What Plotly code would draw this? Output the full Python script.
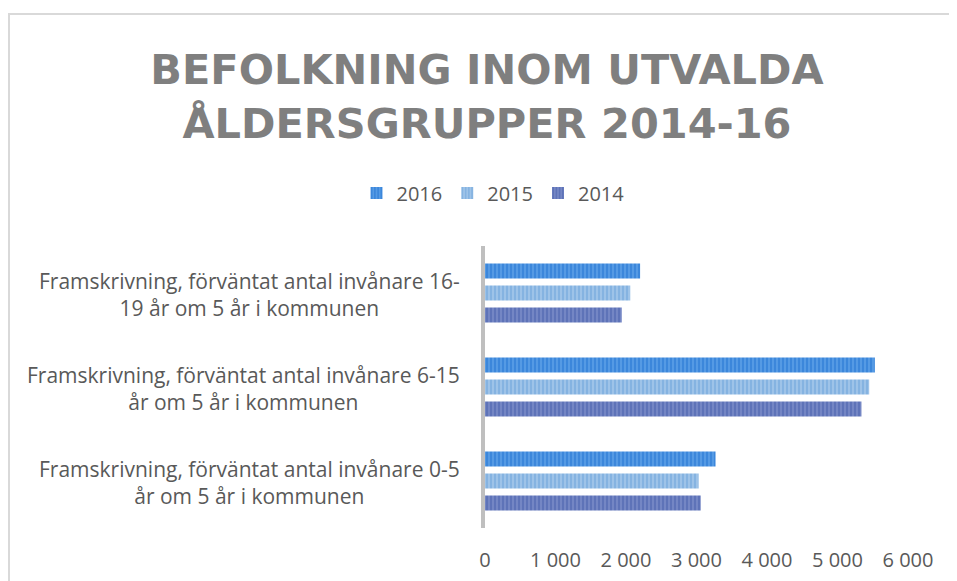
import plotly.graph_objects as go

categories = [
    "Framskrivning, förväntat antal invånare 0-5<br>år om 5 år i kommunen",
    "Framskrivning, förväntat antal invånare 6-15<br>år om 5 år i kommunen",
    "Framskrivning, förväntat antal invånare 16-<br>19 år om 5 år i kommunen",
]
cat_keys = ["0-5", "6-15", "16-19"]
years = ["2014", "2015", "2016"]
values_2014 = [3060, 5340, 1940]
values_2015 = [3030, 5450, 2060]
values_2016 = [3270, 5530, 2200]
tick_vals = [0, 1000, 2000, 3000, 4000, 5000, 6000]
tick_text = ["0", "1 000", "2 000", "3 000", "4 000", "5 000", "6 000"]

series = {"2014": values_2014, "2015": values_2015, "2016": values_2016}
base_colors = {"2014": "#7486C4", "2015": "#9EC3E8", "2016": "#559AE4"}
stripe_colors = {"2014": "#4760AC", "2015": "#6CA4DA", "2016": "#2474D2"}

W, H = 949, 573
L, R, T, B = 477, 49, 238, 53
pw, ph = W - L - R, H - T - B

fig = go.Figure()
for y in years:
    fig.add_trace(go.Bar(
        x=series[y], y=cat_keys, orientation="h", name=y,
        marker=dict(color=base_colors[y], line=dict(width=0),
                    pattern=dict(shape="|", fgcolor=stripe_colors[y],
                                 bgcolor=base_colors[y], size=4, solidity=0.5)),
    ))

for key, label in zip(cat_keys, categories):
    fig.add_annotation(x=-23 / pw, xref="paper", y=key, yref="y", text=label,
                       showarrow=False, xanchor="right", yanchor="middle", align="center",
                       yshift=-1,
                       font=dict(family="Open Sans", size=21, color="#595959"))

fig.add_shape(type="rect", xref="paper", yref="paper",
              x0=(1 - L) / pw, x1=(W + 20 - L) / pw,
              y0=-(B + 20) / ph, y1=(T - 6) / ph + 1,
              line=dict(color="#D9D9D9", width=2), fillcolor="rgba(0,0,0,0)", layer="below")

fig.update_layout(
    width=W, height=H,
    margin=dict(l=L, r=R, t=T, b=B, autoexpand=False),
    paper_bgcolor="white", plot_bgcolor="white",
    barmode="group", bargap=0.298, bargroupgap=0.318,
    title=dict(text="BEFOLKNING INOM UTVALDA<br>ÅLDERSGRUPPER 2014-16",
               x=479 / W, xanchor="center", y=1 - 76 / H, yanchor="middle",
               font=dict(family="DejaVu Sans", size=41.5, color="#7F7F7F", weight="bold")),
    legend=dict(orientation="h", xref="container", yref="container",
                x=485 / W, xanchor="center", y=1 - 185 / H, yanchor="middle",
                traceorder="reversed", font=dict(family="Open Sans", size=20, color="#595959"),
                itemwidth=30),
    xaxis=dict(range=[0, 6000], tickvals=tick_vals, ticktext=tick_text, showgrid=False,
               zeroline=False, showline=False, ticks="outside", ticklen=14,
               tickcolor="rgba(0,0,0,0)", automargin=False,
               tickfont=dict(family="Open Sans", size=20, color="#595959")),
    yaxis=dict(showticklabels=False, showgrid=False, zeroline=False, showline=True,
               linecolor="#BFBFBF", linewidth=4, ticks="", range=[-0.5, 2.5],
               automargin=False),
    showlegend=True,
)

fig.write_html("out.html")
